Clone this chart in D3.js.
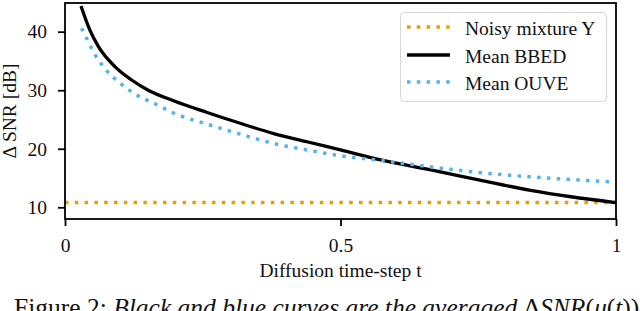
<!DOCTYPE html>
<html>
<head>
<meta charset="utf-8">
<script src="https://cdn.jsdelivr.net/npm/d3@7"></script>
<style>
  body { margin: 0; background: #fff; }
  svg { display: block; font-family: "Liberation Serif", "DejaVu Serif", serif; }
</style>
</head>
<body>
<div id="chart"></div>
<script>
// values
var xTicks = [0, 0.5, 1]
var xTickLabels = ["0", "0.5", "1"]
var yTicks = [10, 20, 30, 40]

var noisyT = [0, 1]
var noisyV = [10.8, 10.8]

var bbedT = [0.029, 0.045, 0.061, 0.091, 0.121, 0.151, 0.197, 0.258, 0.318, 0.379, 0.439, 0.5, 0.573, 0.664, 0.755, 0.845, 0.918, 1.0]
var bbedV = [44.4, 40.3, 37.4, 34.0, 31.75, 30.0, 28.2, 26.2, 24.35, 22.6, 21.2, 19.8, 18.1, 16.4, 14.6, 12.9, 11.8, 10.8]

var ouveT = [0.030, 0.039, 0.055, 0.076, 0.100, 0.130, 0.164, 0.197, 0.258, 0.318, 0.379, 0.439, 0.500, 0.573, 0.664, 0.755, 0.845, 1.0]
var ouveV = [40.6, 38.9, 36.0, 33.3, 31.2, 29.2, 27.65, 26.1, 24.2, 22.5, 20.9, 19.8, 18.8, 18.0, 16.9, 15.9, 15.2, 14.3]

var seriesNames = ["Noisy mixture Y", "Mean BBED", "Mean OUVE"]
var seriesColors = ["#E69F00", "#000000", "#56B4E9"]

var W = 640, H = 311
var plotL = 65, plotR = 616, plotT = 3, plotB = 219
var fs = 19.5

var svg = d3.select("#chart").append("svg").attr("width", W).attr("height", H)
svg.append("rect").attr("width", W).attr("height", H).attr("fill", "#fff")

var x = d3.scaleLinear().domain([0, 1]).range([plotL, plotR])
var y = d3.scaleLinear().domain([8, 44.9]).range([plotB, plotT])

function zip(ts, vs) { return ts.map(function(t, i) { return {t: t, v: vs[i]} }) }
var series = [zip(noisyT, noisyV), zip(bbedT, bbedV), zip(ouveT, ouveV)]

var line = d3.line().x(function(d) { return x(d.t) }).y(function(d) { return y(d.v) })
  .curve(d3.curveMonotoneX)

svg.append("clipPath").attr("id", "clip").append("rect")
  .attr("x", plotL).attr("y", plotT).attr("width", plotR - plotL).attr("height", plotB - plotT)

var plot = svg.append("g").attr("clip-path", "url(#clip)")

series.forEach(function(s, i) {
  plot.append("path")
    .datum(s)
    .attr("d", line)
    .attr("fill", "none")
    .attr("stroke", seriesColors[i])
    .attr("stroke-width", i == 1 ? 3.3 : 3.5)
    .attr("stroke-dasharray", i == 1 ? null : "3.5 6.3")
})

// axes
var xAxis = svg.append("g").attr("transform", "translate(0," + plotB + ")")
  .call(d3.axisBottom(x).tickValues(xTicks).tickFormat(function(d, i) { return xTickLabels[i] })
    .tickSize(7).tickPadding(12))
var yAxis = svg.append("g").attr("transform", "translate(" + plotL + ",0)")
  .call(d3.axisLeft(y).tickValues(yTicks).tickSize(7).tickPadding(11))

;[xAxis, yAxis].forEach(function(a) {
  a.select(".domain").remove()
  a.selectAll("line").attr("stroke", "#000").attr("stroke-width", 1.8)
  a.selectAll("text").attr("font-family", "Liberation Serif").attr("font-size", fs).attr("fill", "#111")
})

// frame
svg.append("rect")
  .attr("x", plotL).attr("y", plotT).attr("width", plotR - plotL).attr("height", plotB - plotT)
  .attr("fill", "none").attr("stroke", "#000").attr("stroke-width", 1.8)

// axis titles
svg.append("text")
  .attr("x", (plotL + plotR) / 2).attr("y", 277)
  .attr("text-anchor", "middle").attr("font-size", fs).attr("fill", "#111")
  .text("Diffusion time-step t")

svg.append("text")
  .attr("transform", "translate(16," + (plotT + plotB) / 2 + ") rotate(-90)")
  .attr("text-anchor", "middle").attr("font-size", fs).attr("fill", "#111")
  .text("\u0394 SNR [dB]")

// legend
var lg = svg.append("g")
lg.append("rect")
  .attr("x", 400.5).attr("y", 12.5).attr("width", 206).attr("height", 89).attr("rx", 4)
  .attr("fill", "#fff").attr("fill-opacity", 0.8).attr("stroke", "#d6d6d6").attr("stroke-width", 1)

var rowY = [27, 55, 82]
seriesNames.forEach(function(name, i) {
  lg.append("line")
    .attr("x1", 407).attr("x2", 450).attr("y1", rowY[i]).attr("y2", rowY[i])
    .attr("stroke", seriesColors[i])
    .attr("stroke-width", i == 1 ? 3.3 : 3.5)
    .attr("stroke-dasharray", i == 1 ? null : "3.5 6.3")
  lg.append("text")
    .attr("x", 465).attr("y", rowY[i] + 8)
    .attr("font-size", fs).attr("fill", "#111")
    .text(name)
})

// caption (cut at the bottom edge)
var cap = svg.append("text").attr("x", 14).attr("y", 316).attr("font-size", 25.5).attr("fill", "#111")
cap.append("tspan").text("Figure 2: ")
cap.append("tspan").attr("font-style", "italic").text("Black and blue curves are the averaged ")
cap.append("tspan").text("\u0394")
cap.append("tspan").attr("font-style", "italic").text("SNR")
cap.append("tspan").text("(")
cap.append("tspan").attr("font-style", "italic").text("\u03bc")
cap.append("tspan").text("(")
cap.append("tspan").attr("font-style", "italic").text("t")
cap.append("tspan").text("))")
</script>
</body>
</html>
